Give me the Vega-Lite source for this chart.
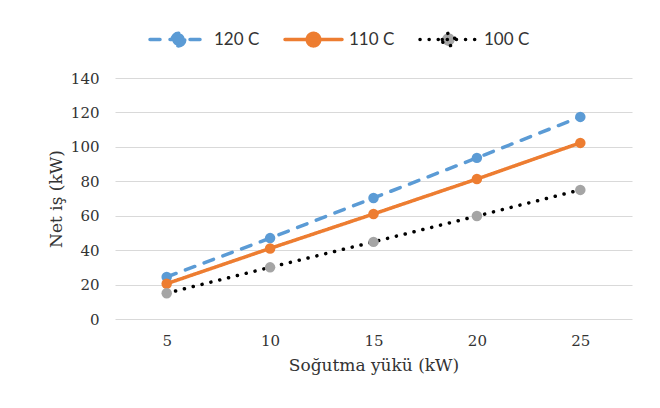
{
  "$schema": "https://vega.github.io/schema/vega-lite/v6.json",
  "autosize": {"type": "none"},
  "width": 517,
  "height": 241,
  "padding": {"left": 115, "top": 78, "right": 28, "bottom": 89},
  "background": "white",
  "data": {
    "values": [
      {"yuk": 5, "seri": "120 C", "is": 24.4},
      {"yuk": 10, "seri": "120 C", "is": 47.0},
      {"yuk": 15, "seri": "120 C", "is": 70.3},
      {"yuk": 20, "seri": "120 C", "is": 93.6},
      {"yuk": 25, "seri": "120 C", "is": 117.4},
      {"yuk": 5, "seri": "110 C", "is": 20.5},
      {"yuk": 10, "seri": "110 C", "is": 41.0},
      {"yuk": 15, "seri": "110 C", "is": 61.0},
      {"yuk": 20, "seri": "110 C", "is": 81.3},
      {"yuk": 25, "seri": "110 C", "is": 102.3},
      {"yuk": 5, "seri": "100 C", "is": 15.0},
      {"yuk": 10, "seri": "100 C", "is": 30.0},
      {"yuk": 15, "seri": "100 C", "is": 44.8},
      {"yuk": 20, "seri": "100 C", "is": 59.8},
      {"yuk": 25, "seri": "100 C", "is": 75.0}
    ]
  },
  "encoding": {
    "x": {
      "field": "yuk",
      "type": "ordinal",
      "sort": "ascending",
      "scale": {"type": "point", "padding": 0.5},
      "title": "Soğutma yükü (kW)",
      "axis": {
        "labelAngle": 0,
        "grid": false,
        "domain": false,
        "ticks": false,
        "labelPadding": 14,
        "titlePadding": 9
      }
    },
    "y": {
      "field": "is",
      "type": "quantitative",
      "scale": {"domain": [0, 140]},
      "title": "Net iş (kW)",
      "axis": {
        "values": [0, 20, 40, 60, 80, 100, 120, 140],
        "grid": true,
        "domain": false,
        "ticks": false,
        "labelPadding": 16,
        "titlePadding": 5
      }
    }
  },
  "layer": [
    {
      "mark": {"type": "line", "strokeCap": "round", "strokeWidth": 3.5},
      "encoding": {
        "stroke": {
          "field": "seri",
          "type": "nominal",
          "scale": {"domain": ["120 C", "110 C", "100 C"], "range": ["#5b9bd5", "#ed7d31", "#000000"]},
          "legend": {
            "title": null,
            "encode": {
              "symbols": {
                "update": {
                  "stroke": {"scale": "stroke", "field": "value"},
                  "fill": {"scale": "fill", "field": "value"},
                  "strokeCap": {"value": "round"}
                }
              }
            }
          }
        },
        "strokeDash": {
          "field": "seri",
          "type": "nominal",
          "scale": {"domain": ["120 C", "110 C", "100 C"], "range": [[10, 10], [1, 0], [0.1, 9]]},
          "legend": {"title": null}
        }
      }
    },
    {
      "mark": {"type": "point", "filled": true, "size": 110, "opacity": 1, "shape": "circle"},
      "encoding": {
        "fill": {
          "field": "seri",
          "type": "nominal",
          "scale": {"domain": ["120 C", "110 C", "100 C"], "range": ["#5b9bd5", "#ed7d31", "#a5a5a5"]},
          "legend": null
        }
      }
    }
  ],
  "config": {
    "view": {"stroke": null},
    "axis": {
      "labelFont": "DejaVu Serif",
      "labelFontSize": 15,
      "labelColor": "#333333",
      "titleFont": "DejaVu Serif",
      "titleFontSize": 17,
      "titleFontWeight": "normal",
      "titleColor": "#333333",
      "gridColor": "#d9d9d9",
      "gridWidth": 1
    },
    "legend": {
      "orient": "none",
      "direction": "horizontal",
      "legendX": 33,
      "legendY": -69,
      "padding": 0,
      "symbolType": "M-1,0L1,0M-0.22,0A0.22,0.22,0,1,1,0.22,0A0.22,0.22,0,1,1,-0.22,0Z",
      "symbolSize": 3249,
      "symbolStrokeWidth": 3.5,
      "labelFont": "Lato",
      "labelFontSize": 17,
      "labelColor": "#333333",
      "labelOffset": 5,
      "columnPadding": 18
    }
  }
}
